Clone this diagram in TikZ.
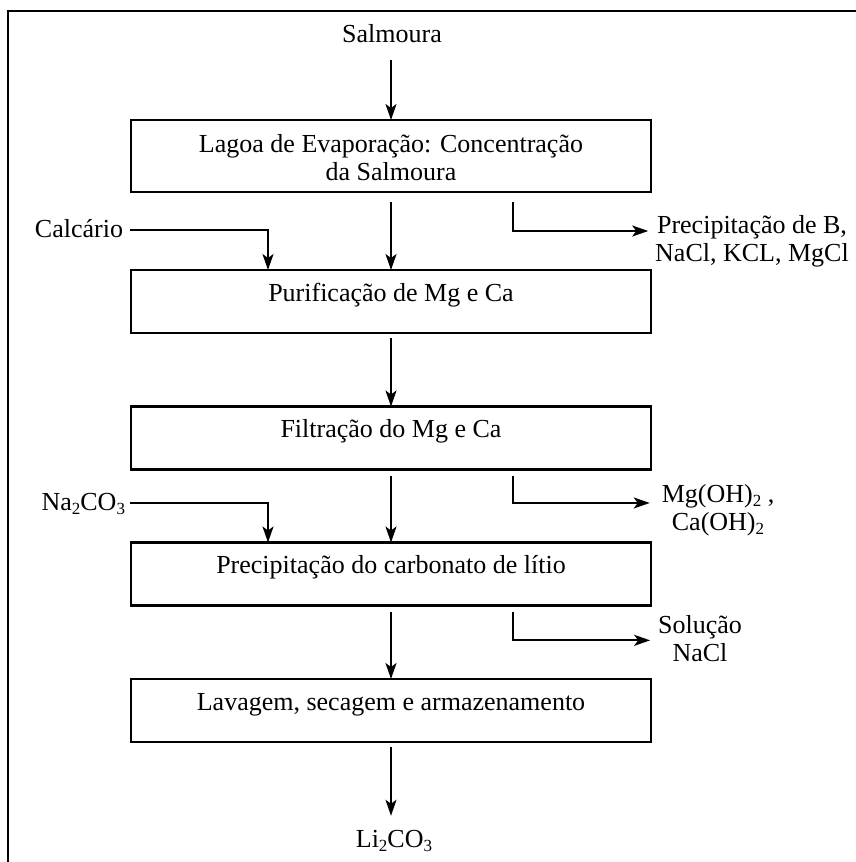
\documentclass[tikz,border=0pt]{standalone}
\usepackage{fontspec}
\setmainfont{Liberation Serif}
\usetikzlibrary{arrows.meta}
\newcommand\chsub[1]{\raisebox{-0.18em}{\fontsize{17}{17}\selectfont #1}}
\begin{document}
\begin{tikzpicture}[x=1pt,y=-1pt,
  every node/.style={inner sep=0pt, outer sep=0pt, font=\fontsize{26}{28}\selectfont},
  box/.style={draw, line width=2.6pt, minimum width=520pt, minimum height=63pt},
  txt/.style={anchor=base},
  mtxt/.style={anchor=north, align=center},
  arr/.style={line width=2pt, -{Stealth[length=16pt,width=11pt,inset=4pt]}},
  frame/.style={line width=2.6pt}]
\useasboundingbox (0,0) rectangle (856,862);
\draw[frame] (8,862) -- (8,11) -- (856,11);

% boxes
\node[box, minimum height=72pt] (b1) at (391,156) {};
\node[box] (b2) at (391,301.5) {};
\node[box] (b3) at (391,438) {};
\node[box] (b4) at (391,574) {};
\node[box] (b5) at (391,710.5) {};

% box texts
\node[mtxt] (t1) at (391,132.4) {\strut Lagoa de Evaporação: Concentração\\da Salmoura};
\node[txt] (t2) at (391,301) {Purificação de Mg e Ca};
\node[txt] (t3) at (391,437) {Filtração do Mg e Ca};
\node[txt] (t4) at (391,573) {Precipitação do carbonato de lítio};
\node[txt] (t5) at (391,710) {Lavagem, secagem e armazenamento};

% inputs / outputs
\node[txt] (sal) at (392,42) {Salmoura};
\node[txt] (li) at (394,847) {Li\chsub{2}CO\chsub{3}};
\node[anchor=base east] (calc) at (123,237) {Calcário};
\node[anchor=base east] (na) at (125,510) {Na\chsub{2}CO\chsub{3}};
\node[mtxt] (out1) at (752,213.4) {\strut Precipitação de B,\\NaCl, KCL, MgCl};
\node[mtxt] (out2) at (718,482.4) {\strut Mg(OH)\chsub{2} ,\\Ca(OH)\chsub{2}};
\node[mtxt] (out3) at (700,613.4) {\strut Solução\\NaCl};

% main flow
\draw[arr, shorten <=18pt] (sal.south -| b1.north) -- (b1.north);
\draw[arr, shorten <=10pt] (b1.south) -- (b2.north);
\draw[arr, shorten <=5pt] (b2.south) -- (b3.north);
\draw[arr, shorten <=6pt] (b3.south) -- (b4.north);
\draw[arr, shorten <=6pt] (b4.south) -- (b5.north);
\draw[arr, shorten <=5pt, shorten >=14pt] (b5.south) -- (li.north -| b5.south);

% side inputs
\draw[arr, shorten <=7pt] ([yshift=-2pt]calc.east) -| ([xshift=-123pt]b2.north);
\draw[arr, shorten <=5pt] ([yshift=1pt]na.east) -| ([xshift=-123pt]b4.north);

% side outputs
\draw[arr, shorten >=7pt] ([xshift=122pt,yshift=-10pt]b1.south) |- ([yshift=9pt]out1.west);
\draw[arr, shorten >=12pt] ([xshift=122pt,yshift=-6pt]b3.south) |- ([yshift=6pt]out2.west);
\draw[arr, shorten >=8pt] ([xshift=122pt,yshift=-6pt]b4.south) |- ([yshift=-3pt]out3.west);
\end{tikzpicture}
\end{document}
